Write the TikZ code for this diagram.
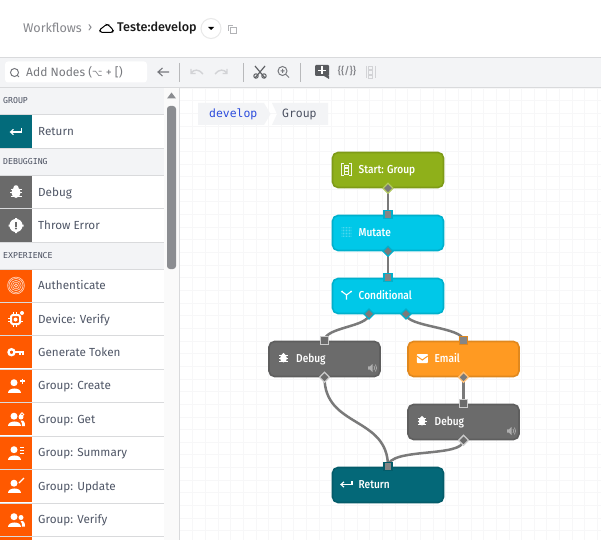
\documentclass[tikz,border=0pt]{standalone}
\usepackage{fontspec}
\setmainfont{Fira Sans}
\newfontfamily\firamed{Fira Sans Medium}[FakeStretch=0.88]
\newfontfamily\firahead{Fira Sans Medium}
\newfontfamily\monof{DejaVu Sans Mono}
\newfontfamily\djvu{DejaVu Sans}
\usetikzlibrary{arrows.meta,shapes.geometric}
\definecolor{barbg}{HTML}{F3F4F6}
\definecolor{rule}{HTML}{D9DADC}
\definecolor{gridc}{HTML}{F7F7F8}
\definecolor{sbtext}{HTML}{4F5666}
\definecolor{hdtext}{HTML}{4A5060}
\definecolor{tealc}{HTML}{036B7B}
\definecolor{grayc}{HTML}{6A6A6A}
\definecolor{orangec}{HTML}{FF5900}
\definecolor{toolc}{HTML}{77797E}
\definecolor{lightc}{HTML}{D2D3D6}
\definecolor{blink}{HTML}{2B4BDC}
\definecolor{portg}{HTML}{7A7A7A}
\definecolor{portin}{HTML}{858585}
\tikzset{
  flowbox/.style={draw=#1!88!black,fill=#1,line width=1.6pt,rounded corners=5.5pt,minimum width=111pt,minimum height=35pt,inner sep=0pt},
  flowlabel/.style={anchor=west,text=white,font=\firamed\fontsize{11.5}{13}\selectfont,inner sep=0pt,text height=9pt,text depth=3pt},
  link/.style={draw=portg,line width=2.5pt},
  inport/.style={draw=#1,fill=portin,line width=1.3pt,minimum size=8pt,inner sep=0pt,rectangle},
  outport/.style={draw=#1,fill=portg,line width=1.3pt,diamond,minimum size=10.5pt,inner sep=0pt},
  sbicon/.style={fill=#1,minimum width=32pt,minimum height=32.5pt,inner sep=0pt},
  sblabel/.style={anchor=west,text=sbtext,font=\fontsize{11.7}{14}\selectfont,inner sep=0pt,text height=10pt,text depth=2pt},
  sbhead/.style={anchor=west,text=hdtext,font=\monof\fontsize{8.2}{10}\selectfont,inner sep=0pt},
  pics/bugic/.style={code={
    \draw[white,line width=1pt] (-5.5,-3)--(5.5,-3) (-6,0.5)--(6,0.5) (-5.5,4)--(5.5,4);
    \fill[white] (0,0.5) ellipse (4.6 and 5.4);
    \fill[white] (0,-4.2) circle (2.6);}},
  pics/throwic/.style={code={
    \fill[white] (0,0) circle (6.6);
    \fill[white] (-7.5,-1) rectangle (7.5,1) (-1,-7.5) rectangle (1,7.5);
    \fill[grayc] (-1,-4) rectangle (1,1);
    \fill[grayc] (0,3) circle (1.1);}},
  pics/retic/.style={code={
    \draw[white,line width=1.1pt] (5.5,-3)--(5.5,0.5)--(-5,0.5);
    \draw[white,line width=1.1pt] (-2.5,-2.2)--(-5.5,0.5)--(-2.5,3.2);}},
  pics/fingeric/.style={code={
    \foreach \r in {1.6,3.4,5.2,7,8.4}{\draw[white,line width=.6pt,opacity=.75] (0,0) circle (\r);}}},
  pics/deviceic/.style={code={
    \draw[white,line width=2pt,rounded corners=1.5pt] (-5,-4) rectangle (4,5);
    \draw[white,line width=1pt] (0,-7)--(0,-5) (-3,-7)--(-3,-5) (-8,-1)--(-6,-1) (-8,2)--(-6,2) (-3,6)--(-3,8) (0,6)--(0,8) (5,2)--(7,2);
    \fill[white] (-.5,.5) circle (2);
    \fill[white] (6,-6) circle (2);}},
  pics/keyic/.style={code={
    \draw[white,line width=2.3pt] (-4.5,0) circle (3);
    \draw[white,line width=2.4pt] (-1.5,0)--(8,0);
    \draw[white,line width=1.6pt] (4,0)--(4,3) (7,0)--(7,3);}},
  pics/people/.style={code={
    \fill[white] (-2,-2.8) circle (3.5);
    \fill[white] (-8,7) .. controls (-8,1) and (5,1) .. (5,7) -- cycle;}},
  pics/peopletwo/.style={code={
    \pic at (0,0) {people};
    \fill[white] (5,-2) circle (2.5);
    \fill[white] (6,7) -- (9,7) .. controls (9,3) and (8,1) .. (4.5,1.5) .. controls (6,3) and (6,5) .. (6,7) -- cycle;}},
  pics/mutateic/.style={code={
    \foreach \i in {-4.5,-3,-1.5,0,1.5,3,4.5}{\foreach \j in {-4.5,-3,-1.5,0,1.5,3,4.5}{\fill[white,opacity=.45] (\i,\j) circle (.4);}}}},
  pics/forkic/.style={code={
    \draw[white,line width=1.1pt] (0,4.5)--(0,0) (-4,-3)--(0,0)--(4,-3);
    \fill[white] (-4.5,-3.4) circle (1.1) (4.5,-3.4) circle (1.1);}},
  pics/startic/.style={code={
    \draw[white,line width=.7pt,opacity=.9] (-2.5,-6)--(-5,-6)--(-5,6)--(-2.5,6) (2.5,-6)--(5,-6)--(5,6)--(2.5,6);
    \draw[white,line width=.6pt,opacity=.9] (-2,-4.5) rectangle (2,-1.8) (-2,-1.2) rectangle (2,1.5) (-2,2.1) rectangle (2,4.8);}},
  pics/mailic/.style={code={
    \fill[white,rounded corners=.8pt] (-5.5,-4.5) rectangle (5.5,4.5);
    \draw[#1,line width=1pt] (-5.5,-2.5)--(0,1.5)--(5.5,-2.5);}},
  pics/speakic/.style={code={
    \fill[#1] (-4,-1.6)--(-2,-1.6)--(.5,-4)--(.5,4)--(-2,1.6)--(-4,1.6)--cycle;
    \draw[#1,line width=.7pt] (2,-2)..controls (3,-1) and (3,1)..(2,2) (3.4,-3.4)..controls (5,-1.5) and (5,1.5)..(3.4,3.4);}},
}
\newcommand\sbrow[5]{%
  \node[sbicon=#3] (ic#1) at (16,#2) {};
  \pic at (ic#1) {#4};
  \node[sblabel] (lb#1) at (38,#2) {#5};
}
\newcommand\sbheader[3]{%
  \fill[barbg] (0,#2-13) rectangle (164,#2+13);
  \node[sbhead] (hd#1) at (3,#2) {#3};
}
\begin{document}
\begin{tikzpicture}[x=1pt,y=-1pt]
\useasboundingbox (0,0) rectangle (601,540);
\fill[white] (0,0) rectangle (601,540);
% canvas grid
\begin{scope}
\clip (180,88) rectangle (601,540);
\foreach \k in {1,...,33}{\draw[gridc,line width=.8pt] (180+\k*12.65,88)--(180+\k*12.65,540);}
\foreach \k in {0,...,36}{\draw[gridc,line width=.8pt] (180,88+\k*12.65)--(601,88+\k*12.65);}
\end{scope}
% header
\node[anchor=west,inner sep=0pt,text=toolc!90!white,font=\fontsize{12.6}{15}\selectfont] (wf) at (23,28) {Workflows};
\node[anchor=center,inner sep=0pt,text=toolc!90!white,font=\fontsize{13}{15}\selectfont] (sep) at (90,28) {›};
\draw[black,line width=1pt,rounded corners=1.6pt] (100.5,32.5)--(99.5,29.5)--(103,27.5)--(106,24.5)--(109,25)--(111,28)--(113.5,30)--(112.5,32.5)--cycle;
\node[anchor=west,inner sep=0pt,text=black!90,font=\firahead\fontsize{12.6}{15}\selectfont] (tt) at (117,28) {Teste:develop};
\node[circle,draw=black!9,line width=1pt,fill=white,minimum size=20pt,inner sep=0pt] (dd) at (211,28.5) {};
\fill[black] (208,27)--(214,27)--(211,30)--cycle;
\draw[lightc!85!black,line width=.9pt] (228.5,31)--(228.5,25)--(233,25);
\draw[lightc!85!black,line width=.9pt] (230.5,27) rectangle (236,33.5);
% toolbar
\fill[barbg] (0,58) rectangle (601,87);
\draw[rule,line width=1pt] (0,57.5)--(601,57.5) (0,87.5)--(601,87.5);
\node[draw=none,fill=white,rounded corners=3pt,minimum width=142pt,minimum height=21pt,inner sep=0pt] (srch) at (76,72) {};
\draw[toolc,line width=1pt] (14.5,72.5) circle (4) (17.5,75.5)--(19,77);
\node[anchor=west,inner sep=0pt,text=toolc,font=\fontsize{12}{14}\selectfont] (srchl) at (26,72) {Add Nodes ({\djvu\fontsize{9}{12}\selectfont ⌥} + [)};
\draw[toolc,line width=1.1pt] (169,72)--(158,72) (162.5,68)--(158,72)--(162.5,76);
\draw[rule!85!black,line width=1pt] (179.5,63)--(179.5,82) (243.5,63)--(243.5,82) (300.5,63)--(300.5,82);
\draw[lightc,line width=1.4pt] (191,73)..controls (194,69) and (199,69)..(203,74) (191,69)--(191,73.5)--(195.5,73.5);
\draw[lightc,line width=1.4pt] (227,73)..controls (224,69) and (219,69)..(215,74) (227,69)--(227,73.5)--(222.5,73.5);
\draw[toolc!80!black,line width=1.2pt] (255,66)--(265,78) (265,66)--(255,78);
\draw[toolc!80!black,line width=1pt] (256,76) circle (2.2) (264,76) circle (2.2);
\draw[toolc,line width=1pt] (282.5,71) circle (4.5) (286,74.5)--(289,77.5) (280.5,71)--(284.5,71) (282.5,69)--(282.5,73);
\fill[toolc!75!black,rounded corners=1pt] (315,65) rectangle (329,76);
\fill[toolc!75!black] (324,76)--(329,76)--(329,79)--cycle;
\draw[white,line width=1.4pt] (318,70.5)--(326,70.5) (322,66.5)--(322,74.5);
\node[inner sep=0pt,text=toolc!90!white,font=\firahead\fontsize{10}{11}\selectfont] (codeic) at (347,71.5) {\{\{/\}\}};
\draw[lightc,line width=1pt] (366,66)--(366,78) (375,66)--(375,78);
\draw[lightc,line width=.8pt] (368.5,66) rectangle (372.5,69.5) (368.5,70.5) rectangle (372.5,74) (368.5,75) rectangle (372.5,78.5);
% breadcrumb
\fill[barbg] (198,103)--(264,103)--(270.5,114)--(264,125)--(198,125)--cycle;
\fill[barbg] (272,103)--(328,103)--(328,125)--(272,125)--(277,114)--cycle;
\node[anchor=west,inner sep=0pt,text=blink,font=\monof\fontsize{11.4}{13}\selectfont] (cr1) at (209,114) {develop};
\node[anchor=west,inner sep=0pt,text=hdtext,font=\monof\fontsize{11.4}{13}\selectfont] (cr2) at (282,114) {Group};
% sidebar
\sbheader{a}{101}{GROUP}
\sbheader{b}{162}{DEBUGGING}
\sbheader{c}{256}{EXPERIENCE}
\sbrow{ret}{131.5}{tealc}{retic}{Return}
\sbrow{dbg}{192}{grayc}{bugic}{Debug}
\sbrow{thr}{225.5}{grayc}{throwic}{Throw Error}
\sbrow{aut}{285.5}{orangec}{fingeric}{Authenticate}
\sbrow{dev}{319}{orangec}{deviceic}{Device: Verify}
\sbrow{gen}{352.2}{orangec}{keyic}{Generate Token}
\sbrow{cre}{385.5}{orangec}{people}{Group: Create}
\sbrow{get}{419}{orangec}{peopletwo}{Group: Get}
\sbrow{sum}{452.5}{orangec}{people}{Group: Summary}
\sbrow{upd}{486}{orangec}{people}{Group: Update}
\sbrow{ver}{519.5}{orangec}{peopletwo}{Group: Verify}
\fill[orangec] (0,537) rectangle (32,540);
% extras of the person icons
\draw[white,line width=1.4pt] (20,381)--(25,381) (22.5,378.5)--(22.5,383.5);
\draw[white,line width=.8pt] (22,414.5) circle (1.8);
\draw[white,line width=.9pt] (20,447)--(24,447) (20,450)--(24,450) (20,453)--(24,453);
\draw[white,line width=1.2pt] (19,483)--(24,478);
\foreach \yy in {114.5,148.5,175.5,208.5,242.5,269.5,302.5,335.5,369,402.5,436,469.5,503,536.5}{\draw[rule,line width=1pt] (0,\yy)--(164,\yy);}
\fill[black!2] (164,88) rectangle (179,540);
\draw[rule,line width=1pt] (179.5,88)--(179.5,540);
\fill[toolc!85!white] (171.5,92.5)--(176,98.5)--(167,98.5)--cycle;
\fill[toolc!85!white,rounded corners=3pt] (167,106) rectangle (176,269);
% flow nodes
\definecolor{startc}{HTML}{8FB01A}
\definecolor{cyanc}{HTML}{00C8E8}
\definecolor{debugc}{HTML}{6B6B6B}
\definecolor{mailc}{HTML}{FF9A22}
\definecolor{retc}{HTML}{046878}
\node[flowbox=startc] (start) at (388,170) {};
\node[flowbox=cyanc] (mutate) at (388,233) {};
\node[flowbox=cyanc] (cond) at (388,296) {};
\node[flowbox=debugc] (debugA) at (324.5,359) {};
\node[flowbox=mailc] (email) at (463.5,359) {};
\node[flowbox=debugc] (debugB) at (463.5,422) {};
\node[flowbox=retc] (ret) at (388,485) {};
\coordinate (condL) at (369,314);
\coordinate (condR) at (406,314);
\draw[link] (start.south) -- (mutate.north);
\draw[link] (mutate.south) -- (cond.north);
\draw[link] (condL) .. controls (369,327) and (324.5,327) .. (debugA.north);
\draw[link] (condR) .. controls (406,327) and (463.5,327) .. (email.north);
\draw[link] (email.south) -- (debugB.north);
\draw[link] (debugA.south) .. controls (324.5,428) and (388,416) .. (ret.north);
\draw[link] (debugB.south) .. controls (463.5,458) and (388,447) .. (ret.north);
\node[outport=startc!70!white] (p1) at (start.south) {};
\node[inport=cyanc!88!black] (p2) at (mutate.north) {};
\node[outport=cyanc!88!black] (p3) at (mutate.south) {};
\node[inport=cyanc!88!black] (p4) at (cond.north) {};
\node[outport=cyanc!88!black] (p5) at (condL) {};
\node[outport=cyanc!88!black] (p6) at (condR) {};
\node[inport=debugc!35!white,fill=debugc] (p7) at (debugA.north) {};
\node[inport=mailc!88!black] (p8) at (email.north) {};
\node[outport=debugc!35!white,fill=debugc] (p9) at (debugA.south) {};
\node[outport=mailc!60!white] (p10) at (email.south) {};
\node[inport=debugc!35!white,fill=debugc] (p11) at (debugB.north) {};
\node[outport=debugc!35!white,fill=debugc] (p12) at (debugB.south) {};
\node[inport=retc!88!black] (p13) at (ret.north) {};
\pic at (346,169.5) {startic};
\pic at (346.5,232) {mutateic};
\pic at (346.5,295) {forkic};
\pic[scale=.75] at (283.5,358) {bugic};
\pic at (422.3,358.5) {mailic=mailc};
\pic[scale=.75] at (422,421) {bugic};
\pic at (346.5,484) {retic};
\pic at (372,368) {speakic=debugc!55!white};
\pic at (511,431) {speakic=debugc!55!white};
\node[flowlabel] (t1) at (358.5,170.5) {Start: Group};
\node[flowlabel] (t2) at (358.5,233) {Mutate};
\node[flowlabel] (t3) at (358.5,296) {Conditional};
\node[flowlabel] (t4) at (296,359) {Debug};
\node[flowlabel] (t5) at (434.5,359) {Email};
\node[flowlabel] (t6) at (434.5,422) {Debug};
\node[flowlabel] (t7) at (358.5,485) {Return};
\end{tikzpicture}
\end{document}
